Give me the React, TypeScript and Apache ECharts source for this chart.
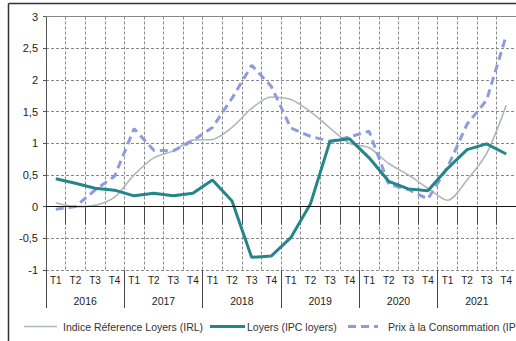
import React, { useEffect, useRef } from "react";
import * as echarts from "echarts";

const quarters = ["T1", "T2", "T3", "T4"];
const years = ["2016", "2017", "2018", "2019", "2020", "2021"];
const categories = years.flatMap((y) => quarters.map((q) => `${q} ${y}`));

const irl = [0.06, 0.0, 0.02, 0.15, 0.5, 0.77, 0.88, 1.05, 1.06, 1.25, 1.55, 1.73, 1.69, 1.5, 1.24, 1.0, 0.93, 0.68, 0.5, 0.29, 0.1, 0.42, 0.84, 1.6];
const ipcLoyers = [0.44, 0.37, 0.29, 0.26, 0.17, 0.21, 0.17, 0.21, 0.42, 0.09, -0.8, -0.78, -0.49, 0.04, 1.03, 1.07, 0.77, 0.4, 0.28, 0.25, 0.6, 0.9, 0.99, 0.83];
const ipc = [-0.04, 0.0, 0.26, 0.48, 1.23, 0.89, 0.88, 1.04, 1.25, 1.71, 2.23, 1.9, 1.24, 1.11, 1.03, 1.1, 1.19, 0.35, 0.27, 0.12, 0.62, 1.3, 1.68, 2.7];

const seriesNames = [
  "Indice Réference Loyers (IRL)",
  "Loyers (IPC loyers)",
  "Prix à la Consommation (IPC)",
];

const FONT = "Liberation Sans, Arial, sans-serif";

const lineStyles = [
  { color: "#b1b6b6", width: 1.6, dash: null as number[] | null },
  { color: "#22868a", width: 3, dash: null as number[] | null },
  { color: "#8e9be0", width: 3, dash: [8, 5] },
];

// Legend row drawn by hand: sample stroke followed by its label
const legendX = [24, 210, 348];
const legendLineLen = [33, 35, 30];
const legendTextGap = [6, 2, 10];
const legendY = 326.5;

function legendGraphics() {
  const out: any[] = [];
  seriesNames.forEach((name, i) => {
    const s = lineStyles[i];
    const x0 = legendX[i];
    const x1 = x0 + legendLineLen[i];
    out.push({
      type: "line",
      silent: true,
      shape: { x1: x0, y1: legendY, x2: x1, y2: legendY },
      style: { stroke: s.color, lineWidth: s.width, lineDash: s.dash || undefined },
    });
    out.push({
      type: "text",
      silent: true,
      x: x1 + legendTextGap[i],
      y: legendY,
      style: {
        text: name,
        fill: "#333",
        font: `10.5px ${FONT}`,
        verticalAlign: "middle",
        align: "left",
      },
    });
  });
  return out;
}

export default function App() {
  const ref = useRef<HTMLDivElement>(null);

  useEffect(() => {
    const chart = echarts.init(ref.current!, null, { renderer: "svg" });
    chart.setOption({
      animation: false,
      textStyle: { fontFamily: FONT },
      grid: { left: 46, top: 16.5, right: -1, bottom: 71, containLabel: false },
      xAxis: [
        {
          type: "category",
          data: categories,
          position: "bottom",
          boundaryGap: true,
          axisLine: { show: true, lineStyle: { color: "#333", width: 1 } },
          axisTick: { show: true, interval: 0, length: 18, lineStyle: { color: "#444" } },
          axisLabel: {
            interval: 0,
            margin: 5,
            fontSize: 10,
            color: "#222",
            formatter: (v: string) => v.split(" ")[0],
          },
          splitLine: {
            show: true,
            interval: 0,
            lineStyle: { color: "#888", type: [3, 2], width: 1 },
          },
        },
        {
          type: "category",
          data: years,
          position: "bottom",
          boundaryGap: true,
          axisLine: { show: false },
          axisTick: { show: true, interval: 0, length: 38, lineStyle: { color: "#444" } },
          axisLabel: { interval: 0, margin: 25, fontSize: 10.5, color: "#222" },
          splitLine: { show: false },
        },
      ],
      yAxis: {
        type: "value",
        min: -1,
        max: 3,
        interval: 0.5,
        axisLine: { show: true, lineStyle: { color: "#555", width: 1 } },
        axisTick: { show: true, length: 3, lineStyle: { color: "#555" } },
        axisLabel: {
          margin: 8,
          fontSize: 11,
          color: "#222",
          formatter: (v: number) => String(v).replace(".", ","),
        },
        splitLine: { show: true, lineStyle: { color: "#888", type: [3, 2], width: 1 } },
      },
      series: [
        {
          name: seriesNames[0],
          type: "line",
          data: irl,
          symbol: "none",
          smooth: 0.3,
          lineStyle: { color: lineStyles[0].color, width: lineStyles[0].width },
          z: 2,
          markLine: {
            silent: true,
            symbol: "none",
            label: { show: false },
            data: [
              { yAxis: 0, lineStyle: { color: "#111", type: "solid", width: 1.2 } },
              { yAxis: 3, lineStyle: { color: "#888", type: "solid", width: 1 } },
            ],
          },
        },
        {
          name: seriesNames[1],
          type: "line",
          data: ipcLoyers,
          symbol: "none",
          lineStyle: { color: lineStyles[1].color, width: lineStyles[1].width },
          z: 4,
        },
        {
          name: seriesNames[2],
          type: "line",
          data: ipc,
          symbol: "none",
          lineStyle: { color: lineStyles[2].color, width: lineStyles[2].width, type: lineStyles[2].dash },
          z: 3,
        },
      ],
      graphic: [
        {
          type: "line",
          silent: true,
          shape: { x1: 8.5, y1: 3.5, x2: 520, y2: 3.5 },
          style: { stroke: "#333", lineWidth: 1.5 },
        },
        {
          type: "line",
          silent: true,
          shape: { x1: 8.5, y1: 3.5, x2: 8.5, y2: 345 },
          style: { stroke: "#333", lineWidth: 1.5 },
        },
        ...legendGraphics(),
      ],
    });
    return () => chart.dispose();
  }, []);

  return (
    <div
      ref={ref}
      style={{ position: "fixed", left: 0, top: 0, width: 516, height: 341, background: "#fff" }}
    />
  );
}
